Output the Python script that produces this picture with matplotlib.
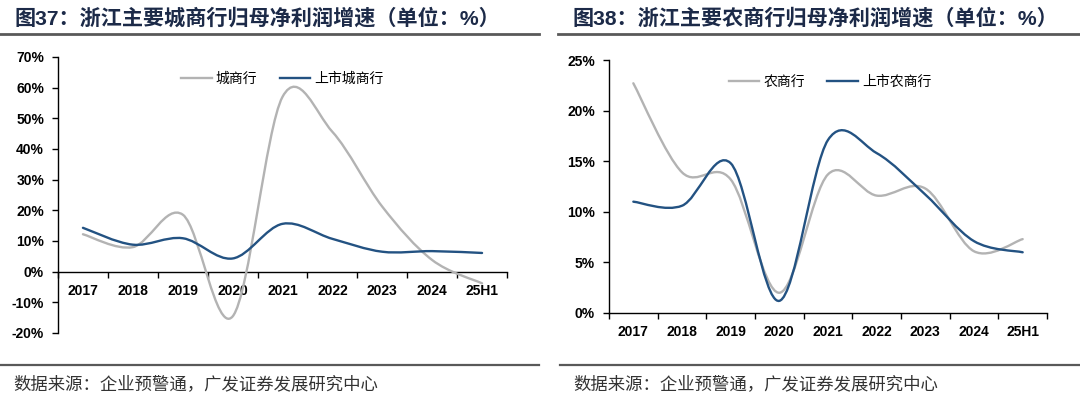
import numpy as np
import matplotlib.pyplot as plt
from matplotlib.path import Path
from matplotlib.patches import PathPatch
from matplotlib.lines import Line2D
from matplotlib.ticker import FixedLocator, FuncFormatter

plt.rcParams['font.family'] = ['Liberation Sans', 'Noto Sans CJK SC']

# data (% growth)
years = ["2017", "2018", "2019", "2020", "2021", "2022", "2023", "2024", "25H1"]
city_all = [12.2, 8.0, 18.6, -14.6, 57.0, 45.6, 21.2, 3.8, -3.8]
city_listed = [14.3, 8.8, 10.9, 4.3, 15.6, 10.7, 6.5, 6.7, 6.1]
rural_all = [22.7, 13.9, 13.2, 2.0, 13.7, 11.6, 12.3, 6.1, 7.3]
rural_listed = [11.0, 10.6, 14.8, 1.2, 17.1, 15.8, 11.7, 7.1, 6.0]

GRAY = "#b3b3b3"
BLUE = "#235282"
NAVY = "#1c2a48"
LINE = "#595959"


def smooth_path(xs, ys):
    """Excel-like smoothed line: cubic bezier through every point."""
    pts = np.column_stack([xs, ys]).astype(float)
    n = len(pts)
    verts = [pts[0]]
    codes = [Path.MOVETO]
    for i in range(n - 1):
        p0 = pts[i - 1] if i > 0 else pts[i]
        p1, p2 = pts[i], pts[i + 1]
        p3 = pts[i + 2] if i + 2 < n else pts[i + 1]
        c1 = p1 + (p2 - p0) / 6.0
        c2 = p2 - (p3 - p1) / 6.0
        verts += [c1, c2, p2]
        codes += [Path.CURVE4] * 3
    return Path(verts, codes)


def draw_panel(ax, series, labels, ylim, step, legend_x):
    x = np.arange(len(years))
    for vals, color in series:
        ax.add_patch(PathPatch(smooth_path(x, vals), fill=False, edgecolor=color,
                               lw=1.7, capstyle="round", joinstyle="round", zorder=3))
    ax.set_xlim(-0.5, len(years) - 0.5)
    ax.set_ylim(*ylim)
    ax.yaxis.set_major_locator(FixedLocator(np.arange(ylim[0], ylim[1] + 0.1, step)))
    ax.yaxis.set_major_formatter(FuncFormatter(lambda v, p: f"{v:.0f}%"))

    for s in ["top", "right"]:
        ax.spines[s].set_visible(False)
    ax.spines["bottom"].set_position(("data", 0))
    ax.spines["left"].set_linewidth(1.0)
    ax.spines["bottom"].set_linewidth(1.0)

    # labels at category centres, tick marks at the boundaries
    ax.set_xticks(x)
    ax.set_xticklabels(years, fontsize=10, fontweight="bold")
    ax.tick_params(axis="x", which="major", length=0, pad=9)
    ax.set_xticks(np.arange(-0.5, len(years)), minor=True)
    ax.tick_params(axis="x", which="minor", length=4, width=1.0, direction="out")
    ax.tick_params(axis="y", length=4, width=1.0, pad=6, labelsize=10)
    for t in ax.get_yticklabels():
        t.set_fontweight("bold")

    handles = [Line2D([], [], color=c, lw=1.7) for _, c in series]
    ax.legend(handles, labels, loc="upper center", bbox_to_anchor=(legend_x, 0.99), ncol=2,
              frameon=False, handlelength=2.2, handletextpad=0.3, columnspacing=1.6,
              prop={"family": "Noto Sans CJK SC", "size": 10})


fig = plt.figure(figsize=(10.8, 3.99), dpi=100)
W, H = 1080, 399

ax1 = fig.add_axes([58 / W, 1 - 333 / H, (507 - 58) / W, (333 - 57) / H])
draw_panel(ax1, [(city_all, GRAY), (city_listed, BLUE)], ["城商行", "上市城商行"], (-20, 70), 10, 0.50)

ax2 = fig.add_axes([609 / W, 1 - 313 / H, (1047 - 609) / W, (313 - 60) / H])
draw_panel(ax2, [(rural_all, GRAY), (rural_listed, BLUE)], ["农商行", "上市农商行"], (0, 25), 5, 0.505)

# titles, rules and source notes
for x0, x1, tx, sx, title in [
    (0, 539, 14, 13, "图37：浙江主要城商行归母净利润增速（单位：%）"),
    (558, 1080, 572, 573, "图38：浙江主要农商行归母净利润增速（单位：%）"),
]:
    fig.text(tx / W, 1 - 18 / H, title, fontsize=15.2, fontweight="bold", color=NAVY,
             va="center", ha="left")
    fig.add_artist(Line2D([x0 / W, x1 / W], [1 - 34 / H] * 2, color=LINE, lw=2))
    fig.add_artist(Line2D([(x0 + 2 if x0 else 0) / W, x1 / W], [1 - 365 / H] * 2, color=LINE, lw=1.6))
    fig.text(sx / W, 1 - 384 / H, "数据来源：企业预警通，广发证券发展研究中心", fontsize=12.5,
             color="#333333", va="center", ha="left", family="Noto Sans CJK SC")

fig.savefig("out.png", dpi=100)
